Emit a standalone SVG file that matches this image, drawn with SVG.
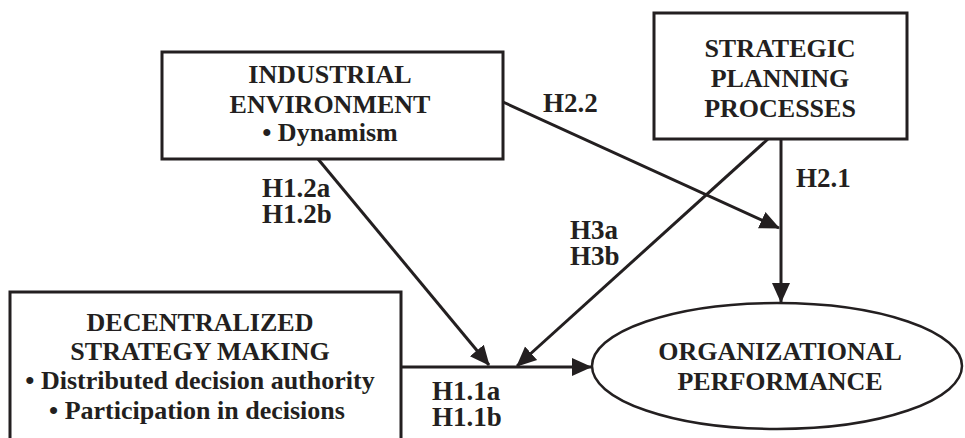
<svg xmlns="http://www.w3.org/2000/svg" width="965" height="438" viewBox="0 0 965 438">
<style>
.box{fill:#fff;stroke:#231f20;stroke-width:3}
.ell{fill:#fff;stroke:#231f20;stroke-width:2.5}
.nt{font-family:"Liberation Serif","Times New Roman",serif;font-weight:bold;font-size:26px;fill:#231f20;text-anchor:middle}
.lb{font-family:"Liberation Serif","Times New Roman",serif;font-weight:bold;font-size:27px;fill:#231f20}
.con{stroke:#231f20;stroke-width:3;fill:none;marker-end:url(#ah)}
</style>
<defs>
<marker id="ah" markerUnits="userSpaceOnUse" markerWidth="20" markerHeight="20" viewBox="0 0 20 20" refX="19" refY="10" orient="auto">
<path d="M0,1 L20,10 L0,19 Z" fill="#231f20"/>
</marker>
</defs>
<rect width="965" height="438" fill="#fff"/>
<g id="connectors">
<line class="con" x1="503" y1="102" x2="779" y2="228"/>
<line class="con" x1="781" y1="139" x2="781" y2="302"/>
<line class="con" x1="318" y1="159" x2="489" y2="365"/>
<line class="con" x1="768" y1="139" x2="517" y2="366"/>
<line class="con" x1="401" y1="367" x2="591" y2="367"/>
</g>
<g id="industrial">
<rect class="box" x="162" y="52" width="341" height="107"/>
<text class="nt" x="330" y="83">INDUSTRIAL</text>
<text class="nt" x="330" y="113">ENVIRONMENT</text>
<text class="nt" x="330" y="141">• Dynamism</text>
</g>
<g id="strategic">
<rect class="box" x="654" y="13" width="253" height="126"/>
<text class="nt" x="780" y="57">STRATEGIC</text>
<text class="nt" x="780" y="87">PLANNING</text>
<text class="nt" x="780" y="117">PROCESSES</text>
</g>
<g id="decentralized">
<rect class="box" x="10" y="292" width="391" height="160"/>
<text class="nt" x="200" y="331">DECENTRALIZED</text>
<text class="nt" x="200" y="360">STRATEGY MAKING</text>
<text class="nt" x="200" y="389">• Distributed decision authority</text>
<text class="nt" x="197" y="419">• Participation in decisions</text>
</g>
<g id="performance">
<ellipse class="ell" cx="777" cy="366" rx="185" ry="63"/>
<text class="nt" x="780" y="360">ORGANIZATIONAL</text>
<text class="nt" x="780" y="390">PERFORMANCE</text>
</g>
<g id="labels">
<text class="lb" x="543" y="112">H2.2</text>
<text class="lb" x="796" y="187">H2.1</text>
<text class="lb" x="262" y="197">H1.2a</text>
<text class="lb" x="262" y="223">H1.2b</text>
<text class="lb" x="570" y="239">H3a</text>
<text class="lb" x="570" y="265">H3b</text>
<text class="lb" x="432" y="400">H1.1a</text>
<text class="lb" x="432" y="426">H1.1b</text>
</g>
</svg>
